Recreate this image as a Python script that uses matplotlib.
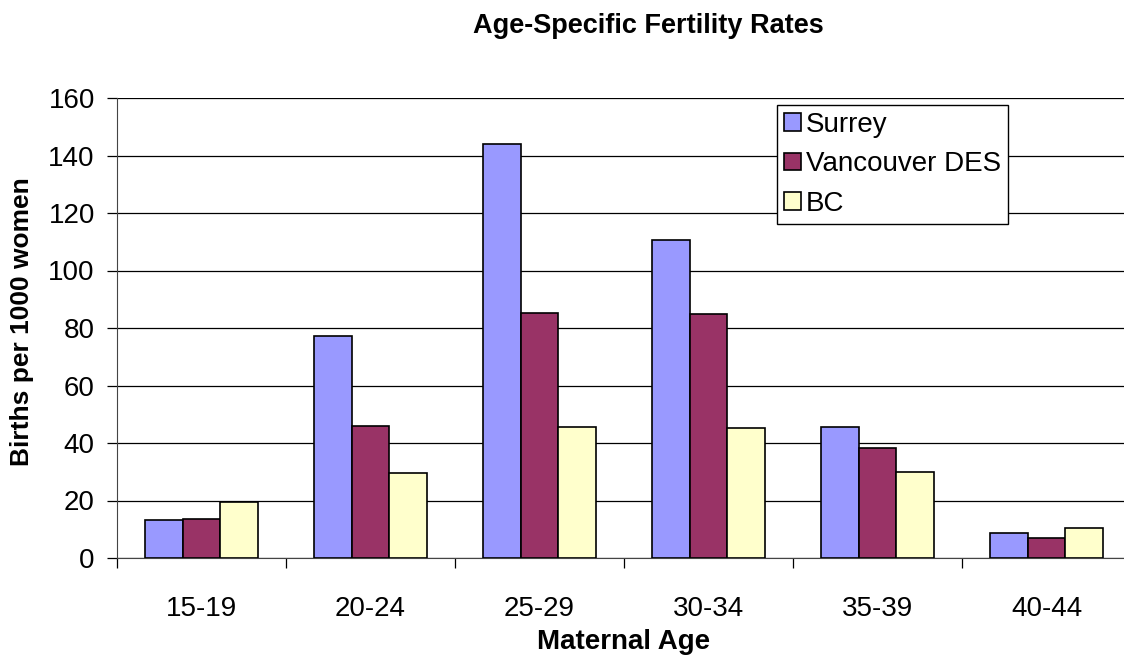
import matplotlib
matplotlib.use("Agg")
import matplotlib.pyplot as plt
import numpy as np

plt.rcParams['font.family'] = ['Liberation Sans', 'DejaVu Sans']

categories = ["15-19", "20-24", "25-29", "30-34", "35-39", "40-44"]
surrey = [13.2, 77.2, 144.0, 110.6, 45.6, 8.7]
vancouver = [13.5, 45.9, 85.2, 84.9, 38.3, 7.0]
bc = [19.5, 29.6, 45.6, 45.2, 29.9, 10.4]
series_names = ["Surrey", "Vancouver DES", "BC"]
colors = ["#9999FF", "#993366", "#FFFFCC"]

W, H = 1124, 655
fig = plt.figure(figsize=(W / 100, H / 100), dpi=100)
left, right, top, bottom = 117, 1131, 98, 558
ax = fig.add_axes([left / W, 1 - bottom / H, (right - left) / W, (bottom - top) / H])

x = np.arange(len(categories))
bw = 0.222
for i, (vals, name, c) in enumerate(zip([surrey, vancouver, bc], series_names, colors)):
    ax.bar(x + (i - 1) * bw, vals, width=bw, color=c, edgecolor="black", linewidth=1.2,
           label=name, zorder=3)

ax.set_xlim(-0.5, len(categories) - 0.5)
ax.set_ylim(0, 160)
ax.set_yticks(range(0, 161, 20))
ax.yaxis.grid(True, color="black", linewidth=0.9, zorder=0)
ax.set_axisbelow(True)
ax.set_xticks(np.arange(-0.5, len(categories), 1.0))
ax.set_xticklabels([])
ax.set_xticks(x, minor=True)
ax.set_xticklabels(categories, minor=True)
ax.tick_params(axis='x', which='major', length=7, direction='out', width=0.9)
ax.tick_params(axis='x', which='minor', length=0, labelsize=20, pad=27)
ax.tick_params(axis='y', length=7, direction='out', labelsize=20, width=0.9, pad=9)
for s in ["top", "right"]:
    ax.spines[s].set_visible(False)
ax.spines["left"].set_color("#444444")
ax.spines["bottom"].set_color("#444444")

fig.text(648 / W, 1 - 26 / H, "Age-Specific Fertility Rates", ha="center", va="center",
         fontsize=19.5, fontweight="bold")
fig.text(624 / W, 1 - 642 / H, "Maternal Age", ha="center", va="center",
         fontsize=20, fontweight="bold")
fig.text(22 / W, 1 - 322 / H, "Births per 1000 women", ha="center", va="center",
         rotation=90, fontsize=19, fontweight="bold")

leg = ax.legend(loc="upper left", bbox_to_anchor=((777 - left) / (right - left), 1 - (105 - top) / (bottom - top)),
                fontsize=20, frameon=True, fancybox=False, edgecolor="black", framealpha=1,
                handlelength=0.6, handleheight=0.6, handletextpad=0.2, borderpad=0.25,
                labelspacing=0.48, borderaxespad=0)
leg.get_frame().set_linewidth(1.0)

fig.savefig("out.png", dpi=100)
